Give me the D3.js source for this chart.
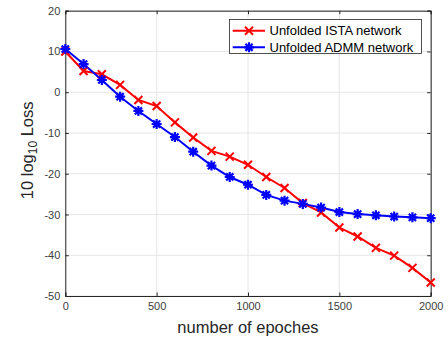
<!DOCTYPE html>
<html><head><meta charset="utf-8">
<script src="https://cdn.jsdelivr.net/npm/d3@7"></script>
<style>body{margin:0;background:#fff}svg{display:block}</style>
</head><body>
<svg id="c" width="448" height="341"></svg>
<script>
const epochs = [0,100,200,300,400,500,600,700,800,900,1000,1100,1200,1300,1400,1500,1600,1700,1800,1900,2000];
const istaLoss = [10.0,5.2,4.4,1.8,-1.9,-3.4,-7.4,-11.1,-14.4,-15.8,-17.8,-20.8,-23.5,-27.2,-29.5,-33.2,-35.4,-38.2,-40.1,-43.1,-46.7];
const admmLoss = [10.6,6.9,3.0,-1.1,-4.6,-7.8,-11.0,-14.6,-18.0,-20.8,-22.7,-25.2,-26.6,-27.4,-28.3,-29.4,-29.9,-30.2,-30.5,-30.7,-30.9];
const xTicks = [0,500,1000,1500,2000];
const yTicks = [-50,-40,-30,-20,-10,0,10,20];
const seriesNames = ["Unfolded ISTA network","Unfolded ADMM network"];
const seriesColors = ["#ff0000","#0000ff"];

const svg = d3.select("#c");
const L=65.3, R=430.7, T=10.7, B=296;
const x = d3.scaleLinear().domain([0,2000]).range([L,R]);
const y = d3.scaleLinear().domain([-50,20]).range([B,T]);
const font = "'Liberation Sans', Arial, sans-serif";
const axisCol = "#262626";

// grid
const g = svg.append("g");
g.selectAll(".gx").data(xTicks).join("line").attr("x1",d=>x(d)).attr("x2",d=>x(d)).attr("y1",T).attr("y2",B).attr("stroke","#e6e6e6").attr("stroke-width",1);
g.selectAll(".gy").data(yTicks).join("line").attr("y1",d=>y(d)).attr("y2",d=>y(d)).attr("x1",L).attr("x2",R).attr("stroke","#e6e6e6").attr("stroke-width",1);

// axes
const fmt = d=>String(d);
const ax = d3.axisBottom(x).tickValues(xTicks).tickSize(-3.5).tickPadding(6).tickFormat(fmt);
const ay = d3.axisLeft(y).tickValues(yTicks).tickSize(-3.5).tickPadding(5).tickFormat(fmt);
const gx = svg.append("g").attr("transform",`translate(0,${B})`).call(ax);
const gy = svg.append("g").attr("transform",`translate(${L},0)`).call(ay);
const gx2 = svg.append("g").attr("transform",`translate(0,${T})`).call(d3.axisTop(x).tickValues(xTicks).tickSize(-3.5).tickFormat(""));
const gy2 = svg.append("g").attr("transform",`translate(${R},0)`).call(d3.axisRight(y).tickValues(yTicks).tickSize(-3.5).tickFormat(""));
[gx,gy,gx2,gy2].forEach(a=>{
  a.select(".domain").attr("stroke",axisCol).attr("stroke-width",1);
  a.selectAll(".tick line").attr("stroke",axisCol);
  a.selectAll("text").attr("fill","#404040").style("font-family",font).style("font-size","11px");
});

// lines
const line = d3.line().x((d,i)=>x(epochs[i])).y(d=>y(d));
const data = [istaLoss, admmLoss];
function xMarker(sel, c){
  sel.append("path").attr("d","M-4,-4L4,4M-4,4L4,-4").attr("stroke",c).attr("stroke-width",2).attr("fill","none");
}
function starMarker(sel, c){
  sel.append("path").attr("d","M-5,0L5,0M0,-5L0,5M-3.6,-3.6L3.6,3.6M-3.6,3.6L3.6,-3.6").attr("stroke",c).attr("stroke-width",2.2).attr("fill","none");
}
data.forEach((vals,si)=>{
  svg.append("path").datum(vals).attr("d",line).attr("fill","none").attr("stroke",seriesColors[si]).attr("stroke-width",2);
});
data.forEach((vals,si)=>{
  svg.append("g").selectAll("g").data(vals).join("g")
    .attr("transform",(d,i)=>`translate(${x(epochs[i])},${y(d)})`)
    .each(function(){ si===0 ? xMarker(d3.select(this),seriesColors[si]) : starMarker(d3.select(this),seriesColors[si]); });
});

// legend
const lg = svg.append("g");
lg.append("rect").attr("x",229.5).attr("y",19.5).attr("width",192).attr("height",34).attr("fill","#fff").attr("stroke",axisCol).attr("stroke-width",0.8);
seriesNames.forEach((nm,i)=>{
  const yy = 30.7 + i*16.6;
  lg.append("line").attr("x1",232.7).attr("x2",265).attr("y1",yy).attr("y2",yy).attr("stroke",seriesColors[i]).attr("stroke-width",2);
  const m = lg.append("g").attr("transform",`translate(249,${yy})`);
  i===0 ? xMarker(m,seriesColors[i]) : starMarker(m,seriesColors[i]);
  lg.append("text").attr("x",269.5).attr("y",yy+4.5).text(nm).attr("fill","#000").style("font-family",font).style("font-size","13px");
});

// axis labels
svg.append("text").attr("x",(L+R)/2).attr("y",333).attr("text-anchor","middle").style("font-family",font).style("font-size","16.5px").attr("fill","#262626").text("number of epoches");
const yl = svg.append("text").attr("transform",`translate(33,${(T+B)/2 - 3}) rotate(-90)`).attr("text-anchor","middle").style("font-family",font).style("font-size","16.5px").attr("fill","#262626");
yl.append("tspan").text("10 log");
yl.append("tspan").attr("dy",4).style("font-size","12px").text("10");
yl.append("tspan").attr("dy",-4).text(" Loss");
</script>
</body></html>
